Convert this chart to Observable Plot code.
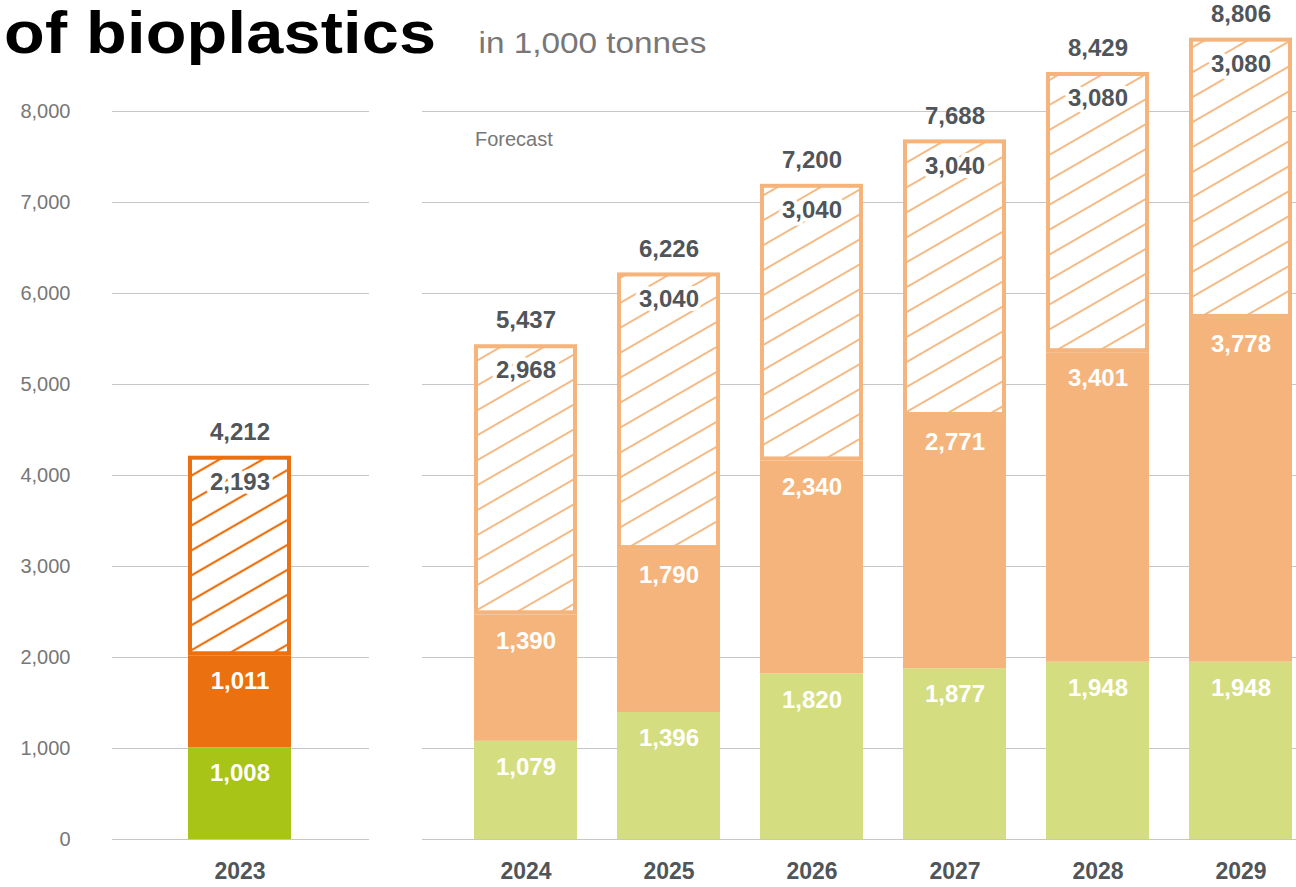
<!DOCTYPE html>
<html><head><meta charset="utf-8">
<script src="https://cdn.jsdelivr.net/npm/d3@7"></script>
<script src="https://cdn.jsdelivr.net/npm/@observablehq/plot@0.6"></script>
<style>
html,body{margin:0;padding:0;background:#fff;overflow:hidden;width:1296px;height:887px;}
#wrap{position:relative;width:1296px;height:887px;overflow:hidden;}
#chart{position:absolute;left:0;top:0;width:1340px;}
#chart svg{max-width:none !important;width:1340px !important;height:887px !important;}
#title{position:absolute;left:4px;top:2px;font-family:"Liberation Sans",Arial,sans-serif;white-space:nowrap;transform:scaleX(1.11);transform-origin:0 0;line-height:61px;}
#title .t{font-weight:bold;font-size:60px;color:#000;letter-spacing:0.2px;}
#title .s{font-size:30px;color:#777;margin-left:38px;}
</style></head>
<body>
<div id="wrap"><div id="chart"></div><div id="title"><span class="t">of bioplastics</span><span class="s">in 1,000 tonnes</span></div></div>
<script>
// ---- data ----
const years = ["2023","2024","2025","2026","2027","2028","2029"];
const biodegradable = [1008, 1079, 1396, 1820, 1877, 1948, 1948];
const biobasedNonBiodegradable = [1011, 1390, 1790, 2340, 2771, 3401, 3778];
const hatchedShare = [2193, 2968, 3040, 3040, 3040, 3080, 3080];
const firstForecastYear = "2024";
const yTicks = [0, 1000, 2000, 3000, 4000, 5000, 6000, 7000, 8000];
const forecastLabel = "Forecast";

// ---- styles ----
const palette = {
  actual:   {bio: "#a8c416", bb: "#eb700f", hatch: "#eb700f"},
  forecast: {bio: "#d4dd80", bb: "#f4b47b", hatch: "#f4b47b"}
};
const fmt = d3.format(",");

// ---- build table ----
const seriesKeys = ["bio", "bb", "hatch"];
const rows = [];
years.forEach((yr, i) => {
  const phase = yr < firstForecastYear ? "actual" : "forecast";
  const vals = [biodegradable[i], biobasedNonBiodegradable[i], hatchedShare[i]];
  let acc = 0;
  seriesKeys.forEach((s, j) => {
    rows.push({year: yr, phase, series: s, value: vals[j], y1: acc, y2: acc + vals[j]});
    acc += vals[j];
  });
});
const solid = rows.filter(d => d.series !== "hatch");
const hatched = rows.filter(d => d.series === "hatch");
const totals = years.map((yr, i) => ({year: yr, total: biodegradable[i] + biobasedNonBiodegradable[i] + hatchedShare[i]}));
const xDomain = [years[0], "gap", ...years.slice(1)];
const forecastYears = years.filter(y => y >= firstForecastYear);

const defs = () => {
  const g = d3.create("svg:defs");
  for (const phase of ["actual", "forecast"]) {
    const c = palette[phase].hatch;
    const p = g.append("pattern").attr("id", "hatch-" + phase)
      .attr("patternUnits", "userSpaceOnUse").attr("width", 20).attr("height", 21.6)
      .attr("patternTransform", "rotate(-30)");
    p.append("rect").attr("width", 20).attr("height", 21.6).attr("fill", "white");
    p.append("line").attr("x1", -1).attr("x2", 21).attr("y1", 10.8).attr("y2", 10.8)
      .attr("stroke", c).attr("stroke-width", phase === "actual" ? 2.2 : 1.8);
  }
  return g.node();
};

const chart = Plot.plot({
  width: 1340,
  height: 887,
  marginLeft: 145,
  marginRight: 4.5,
  marginTop: 20,
  marginBottom: 48,
  style: {fontFamily: '"Liberation Sans", Arial, sans-serif', background: "white", overflow: "visible"},
  x: {domain: xDomain, padding: 0.283},
  y: {domain: [0, 9000]},
  color: {type: "identity"},
  marks: [
    defs,
    Plot.ruleY(yTicks, {y: d => d, x1: () => years[0], x2: () => years[0], insetLeft: -76, insetRight: -78, stroke: "#c6c6c6", strokeWidth: 1.2}),
    Plot.ruleY(yTicks, {y: d => d, x1: () => forecastYears[0], x2: () => forecastYears[forecastYears.length - 1], insetLeft: -52, insetRight: -60, stroke: "#c6c6c6", strokeWidth: 1.2}),
    Plot.barY(solid, {x: "year", y1: "y1", y2: "y2", fill: d => palette[d.phase][d.series]}),
    Plot.barY(hatched, {x: "year", y1: "y1", y2: "y2", fill: d => `url(#hatch-${d.phase})`, stroke: d => palette[d.phase].hatch, strokeWidth: 4, inset: 2}),
    Plot.text(solid, {x: "year", y: "y2", text: d => fmt(d.value), dy: 26, fill: "white", fontWeight: "bold", fontSize: 24}),
    Plot.text(hatched, {x: "year", y: "y2", text: d => fmt(d.value), dy: 26, fill: "#50555a", stroke: "white", strokeWidth: 8, fontWeight: "bold", fontSize: 24}),
    Plot.text(totals, {x: "year", y: "total", text: d => fmt(d.total), dy: -24, fill: "#50555a", fontWeight: "bold", fontSize: 24}),
    Plot.text([forecastLabel], {x: () => firstForecastYear, y: () => yTicks[yTicks.length - 1], text: d => d, textAnchor: "start", dx: -51, dy: 28, fill: "#777", fontSize: 20}),
    Plot.axisY(yTicks, {tickSize: 0, tickPadding: 75, tickFormat: fmt, fontSize: 20, color: "#777", label: null}),
    Plot.axisX(years, {tickSize: 0, tickPadding: 23, fontSize: 23, fontWeight: "bold", color: "#50555a", label: null})
  ]
});
document.getElementById("chart").appendChild(chart);
</script>
</body></html>
